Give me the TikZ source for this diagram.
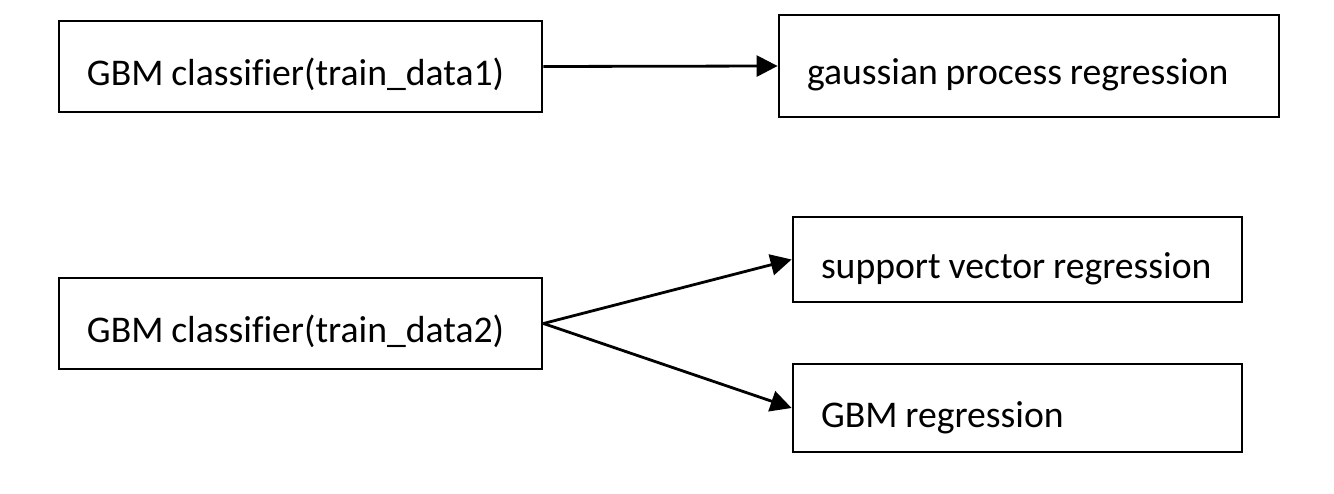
\documentclass[tikz,border=0pt]{standalone}
\usepackage{fontspec}
\setmainfont[Ligatures=NoCommon]{Carlito}
\usetikzlibrary{arrows.meta}
\tikzset{
  box/.style={draw=black, line width=2.8pt, inner sep=0pt, align=left,
    text height=38pt, text depth=0pt,
    font=\fontsize{37.7}{44}\selectfont},
  conn/.style={line width=2.8pt, -{Triangle[length=21pt,width=21pt]}}
}
\newcommand{\bx}[6]{% name, x1, y1, x2, y2, text
  \pgfmathsetmacro{\bw}{#4-#2}\pgfmathsetmacro{\bh}{#5-#3}
  \node[box, text width=\bw pt, minimum height=\bh pt] (#1) at ({(#2+#4)/2},{(#3+#5)/2}) {\spaceskip=7.8pt\relax\hspace*{28pt}#6};}
\begin{document}
\begin{tikzpicture}[x=1pt,y=-1pt]
\useasboundingbox (0,0) rectangle (1334,494);
\bx{b1}{59}{21}{542}{112}{GBM classifier(train\_data1)}
\bx{b2}{779}{15}{1279}{117}{gaussian process regression}
\bx{b3}{59}{278}{542}{369}{GBM classifier(train\_data2)}
\bx{b4}{793}{217}{1242}{302}{support vector regression}
\bx{b5}{793}{364}{1242}{452}{GBM regression}
\draw[conn] (b1.east) -- (b2.west);
\draw[conn] (b3.east) -- (b4.west);
\draw[conn] (b3.east) -- (b5.west);
\end{tikzpicture}
\end{document}
